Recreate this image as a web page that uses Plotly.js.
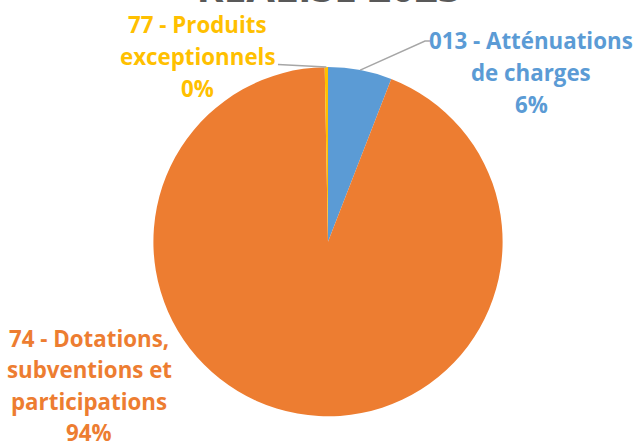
<!DOCTYPE html>
<html>
<head>
<meta charset="utf-8">
<script src="https://cdn.plot.ly/plotly-3.0.1.min.js"></script>
<style>html,body{margin:0;padding:0;background:#fff;}#chart{width:638px;height:441px;}</style>
</head>
<body>
<div id="chart"></div>
<script>
// ---- data ----
const chartTitle = 'RÉALISÉ 2023';
const categories = ['013 - Atténuations de charges', '74 - Dotations, subventions et participations', '77 - Produits exceptionnels'];
const values = [5.9, 93.8, 0.3];
const labelLines = [
  ['013 - Atténuations', 'de charges'],
  ['74 - Dotations,', 'subventions et', 'participations'],
  ['77 - Produits', 'exceptionnels']
];

// ---- style ----
const W = 638, H = 441;
const colors = ['#5B9BD5', '#ED7D31', '#FFC000'];
const FONT = '"Open Sans", Lato, sans-serif';
const fontSize = 22.3;
const lineGap = 31.5;
const pieCx = 328, pieCy = 241.7, pieR = 174.6;
// label block placement (pixel centre x, first line centre y)
const labelPos = [
  {x: 531, y: 41},
  {x: 89, y: 338},
  {x: 197, y: 25}
];
// leader line outer points (pixel), null = none
const leaderOuter = [
  [[430, 41], [425, 41]],
  null,
  [[278, 64.5]]
];

const px = x => x / W;
const py = y => 1 - y / H;

const total = values.reduce((a, b) => a + b, 0);
const pct = values.map(v => Math.round(v / total * 100) + '%');

const annotations = [];
labelLines.forEach((lines, i) => {
  const all = lines.concat([pct[i]]);
  all.forEach((t, k) => {
    annotations.push({
      xref: 'paper', yref: 'paper',
      x: px(labelPos[i].x), y: py(labelPos[i].y + k * lineGap),
      xanchor: 'center', yanchor: 'middle',
      text: '<b>' + t + '</b>', showarrow: false,
      font: {family: FONT, size: fontSize, color: colors[i]}
    });
  });
});

// leader lines: inner end at slice mid-angle on the pie edge
const shapes = [];
let cum = 0;
values.forEach((v, i) => {
  const mid = (cum + v / 2) / total * 2 * Math.PI;
  cum += v;
  if (!leaderOuter[i]) return;
  const ex = pieCx + pieR * Math.sin(mid);
  const ey = pieCy - pieR * Math.cos(mid);
  const pts = leaderOuter[i].concat([[ex, ey]]);
  let d = 'M ' + px(pts[0][0]) + ' ' + py(pts[0][1]);
  for (let k = 1; k < pts.length; k++) d += ' L ' + px(pts[k][0]) + ' ' + py(pts[k][1]);
  shapes.push({type: 'path', xref: 'paper', yref: 'paper', path: d,
    line: {color: '#A6A6A6', width: 1.5}});
});

const trace = {
  type: 'pie',
  labels: categories,
  values: values,
  sort: false,
  direction: 'clockwise',
  rotation: 0,
  textinfo: 'none',
  hoverinfo: 'none',
  marker: {colors: colors, line: {width: 0}},
  domain: {x: [px(pieCx - pieR), px(pieCx + pieR)], y: [py(pieCy + pieR), py(pieCy - pieR)]}
};

const layout = {
  width: W, height: H,
  margin: {l: 0, r: 0, t: 0, b: 0},
  paper_bgcolor: '#ffffff',
  showlegend: false,
  // title is partly cut off by the top edge, as in the reference
  title: {
    text: '<b>' + chartTitle + '</b>',
    x: px(329), xanchor: 'center',
    yref: 'container', y: 1 - 2 / H, yanchor: 'bottom',
    font: {family: FONT, size: 41, color: '#595959'}
  },
  annotations: annotations,
  shapes: shapes
};

Plotly.newPlot('chart', [trace], layout, {staticPlot: true, displayModeBar: false});
</script>
</body>
</html>
